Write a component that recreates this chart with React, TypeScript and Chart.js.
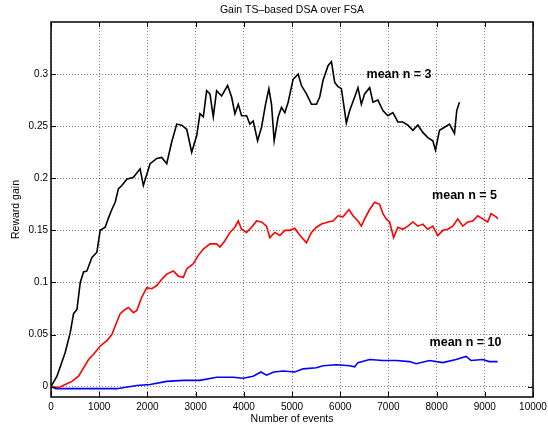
import { useEffect, useRef } from "react";
import { Chart, registerables } from "chart.js";

Chart.register(...registerables);

const FONT = "'Liberation Sans', Arial, Helvetica, sans-serif";

const chartTitle = "Gain TS\u2013based DSA over FSA";
const xTitle = "Number of events";
const yTitle = "Reward gain";

const xTicks = [0, 1000, 2000, 3000, 4000, 5000, 6000, 7000, 8000, 9000, 10000];
const yTicks = [0, 0.05, 0.1, 0.15, 0.2, 0.25, 0.3];

const seriesNames = ["mean n = 3", "mean n = 5", "mean n = 10"];

const blackX = [0, 124, 296, 400, 468, 538, 607, 675, 745, 849, 952, 1021, 1124, 1193, 1262, 1331, 1400, 1469, 1573, 1711, 1849, 1916, 2056, 2195, 2298, 2401, 2505, 2609, 2712, 2816, 2919, 3023, 3091, 3160, 3229, 3298, 3367, 3436, 3540, 3664, 3747, 3816, 3885, 3954, 4058, 4126, 4195, 4286, 4368, 4451, 4520, 4575, 4630, 4713, 4782, 4851, 4920, 5023, 5127, 5196, 5300, 5404, 5507, 5575, 5644, 5748, 5818, 5886, 5955, 6025, 6128, 6197, 6300, 6369, 6439, 6507, 6611, 6680, 6783, 6886, 6990, 7093, 7197, 7300, 7404, 7507, 7611, 7714, 7818, 7922, 7977, 8060, 8164, 8267, 8371, 8418, 8474];
const blackY = [0, 0.010, 0.033, 0.052, 0.070, 0.074, 0.100, 0.110, 0.111, 0.124, 0.129, 0.150, 0.153, 0.162, 0.170, 0.177, 0.190, 0.193, 0.199, 0.201, 0.209, 0.193, 0.214, 0.219, 0.220, 0.214, 0.235, 0.252, 0.251, 0.247, 0.225, 0.241, 0.262, 0.259, 0.284, 0.281, 0.259, 0.284, 0.279, 0.289, 0.278, 0.262, 0.271, 0.260, 0.260, 0.252, 0.255, 0.236, 0.249, 0.271, 0.286, 0.271, 0.236, 0.259, 0.268, 0.263, 0.273, 0.295, 0.300, 0.289, 0.281, 0.271, 0.271, 0.278, 0.294, 0.308, 0.312, 0.292, 0.288, 0.286, 0.253, 0.265, 0.278, 0.287, 0.271, 0.281, 0.287, 0.273, 0.275, 0.265, 0.260, 0.263, 0.254, 0.254, 0.251, 0.246, 0.251, 0.244, 0.239, 0.236, 0.227, 0.246, 0.249, 0.252, 0.243, 0.265, 0.273];

const redX = [0, 158, 296, 434, 572, 676, 779, 883, 1021, 1159, 1262, 1366, 1435, 1538, 1607, 1711, 1780, 1884, 1988, 2091, 2195, 2298, 2401, 2539, 2643, 2746, 2816, 2953, 3056, 3160, 3298, 3437, 3505, 3609, 3712, 3816, 3885, 3954, 4058, 4161, 4265, 4368, 4472, 4540, 4644, 4747, 4851, 4954, 5058, 5150, 5300, 5404, 5507, 5611, 5748, 5851, 5955, 6058, 6182, 6265, 6369, 6439, 6507, 6611, 6714, 6818, 6886, 6956, 7025, 7108, 7197, 7300, 7404, 7507, 7611, 7714, 7818, 7922, 8025, 8129, 8232, 8336, 8439, 8543, 8646, 8750, 8853, 8957, 9060, 9130, 9234, 9270];
const redY = [0, -0.001, 0.002, 0.005, 0.010, 0.018, 0.026, 0.031, 0.039, 0.044, 0.050, 0.062, 0.070, 0.074, 0.076, 0.071, 0.073, 0.086, 0.095, 0.094, 0.097, 0.103, 0.108, 0.111, 0.106, 0.105, 0.113, 0.118, 0.126, 0.132, 0.137, 0.137, 0.134, 0.140, 0.148, 0.153, 0.159, 0.151, 0.148, 0.153, 0.159, 0.158, 0.154, 0.143, 0.148, 0.145, 0.150, 0.150, 0.152, 0.146, 0.138, 0.148, 0.153, 0.156, 0.158, 0.159, 0.164, 0.163, 0.170, 0.164, 0.159, 0.154, 0.161, 0.170, 0.177, 0.175, 0.166, 0.161, 0.158, 0.143, 0.153, 0.151, 0.154, 0.158, 0.154, 0.156, 0.151, 0.154, 0.145, 0.150, 0.151, 0.154, 0.161, 0.154, 0.158, 0.159, 0.164, 0.161, 0.158, 0.166, 0.163, 0.161];

const blueX = [0, 100, 1021, 1366, 1780, 2056, 2401, 2746, 3091, 3436, 3781, 3988, 4195, 4355, 4472, 4623, 4816, 5058, 5230, 5507, 5644, 5921, 6197, 6300, 6369, 6611, 6886, 7163, 7438, 7577, 7853, 8129, 8405, 8612, 8716, 8957, 9095, 9267];
const blueY = [0, -0.002, -0.002, -0.002, 0.001, 0.002, 0.005, 0.006, 0.006, 0.009, 0.009, 0.008, 0.010, 0.014, 0.011, 0.014, 0.015, 0.014, 0.017, 0.018, 0.020, 0.021, 0.020, 0.019, 0.023, 0.026, 0.025, 0.025, 0.024, 0.022, 0.025, 0.023, 0.026, 0.029, 0.025, 0.026, 0.024, 0.024];

const toPoints = (xs: number[], ys: number[]) => xs.map((x, i) => ({ x, y: ys[i] }));

export default function App() {
  const ref = useRef<HTMLCanvasElement | null>(null);

  useEffect(() => {
    if (!ref.current) return;

    const annotations = [
      { text: seriesNames[0], x: 7220, y: 0.2995 },
      { text: seriesNames[1], x: 8580, y: 0.1833 },
      { text: seriesNames[2], x: 8600, y: 0.0426 },
    ];

    const framePlugin = {
      id: "frame",
      afterDatasetsDraw(chart: any) {
        const { ctx, chartArea, scales } = chart;
        const { left, right, top, bottom } = chartArea;
        const xs = scales.x;
        const ys = scales.y;
        ctx.save();
        ctx.strokeStyle = "#000";
        ctx.lineWidth = 1;
        ctx.beginPath();
        const tl = 5;
        xTicks.forEach((v) => {
          const px = Math.round(xs.getPixelForValue(v)) + 0.5;
          ctx.moveTo(px, bottom);
          ctx.lineTo(px, bottom - tl);
          ctx.moveTo(px, top);
          ctx.lineTo(px, top + tl);
        });
        yTicks.forEach((v) => {
          const py = Math.round(ys.getPixelForValue(v)) + 0.5;
          ctx.moveTo(left, py);
          ctx.lineTo(left + tl, py);
          ctx.moveTo(right, py);
          ctx.lineTo(right - tl, py);
        });
        ctx.stroke();
        ctx.lineWidth = 1.5;
        ctx.strokeRect(left, top, right - left, bottom - top);
        ctx.fillStyle = "#000";
        ctx.font = `bold 12.5px ${FONT}`;
        ctx.textAlign = "center";
        ctx.textBaseline = "middle";
        annotations.forEach((a) => {
          ctx.fillText(a.text, xs.getPixelForValue(a.x), ys.getPixelForValue(a.y));
        });
        ctx.font = `10.5px ${FONT}`;
        ctx.fillText(chartTitle, (left + right) / 2, 10.5);
        ctx.restore();
      },
    };

    const chart = new Chart(ref.current, {
      type: "line",
      data: {
        datasets: [
          { label: seriesNames[0], data: toPoints(blackX, blackY), borderColor: "#000000", borderWidth: 1.6, pointRadius: 0, tension: 0, fill: false },
          { label: seriesNames[1], data: toPoints(redX, redY), borderColor: "#ff0000", borderWidth: 1.6, pointRadius: 0, tension: 0, fill: false },
          { label: seriesNames[2], data: toPoints(blueX, blueY), borderColor: "#0000ff", borderWidth: 1.6, pointRadius: 0, tension: 0, fill: false },
        ],
      },
      options: {
        animation: false,
        responsive: false,
        maintainAspectRatio: false,
        parsing: false,
        layout: { padding: { left: 0, right: 15, top: 22, bottom: 0 } },
        plugins: {
          legend: { display: false },
          tooltip: { enabled: false },
          title: { display: false },
        },
        scales: {
          x: {
            type: "linear",
            min: 0,
            max: 10000,
            afterBuildTicks: (s: any) => {
              s.ticks = xTicks.map((v) => ({ value: v }));
            },
            afterFit: (s: any) => {
              s.height = 31;
              s.paddingLeft = 0;
              s.paddingRight = 0;
            },
            ticks: {
              callback: (v: any) => String(v),
              color: "#000",
              font: { family: FONT, size: 10 },
              padding: 4,
              maxRotation: 0,
              autoSkip: false,
            },
            grid: { color: "rgba(0,0,0,0.5)", lineWidth: 1, drawTicks: false },
            border: { display: false, dash: [1, 2] },
            title: {
              display: true,
              text: xTitle,
              color: "#000",
              font: { family: FONT, size: 10.5 },
              padding: { top: 0, bottom: 3 },
            },
          },
          y: {
            type: "linear",
            min: -0.01,
            max: 0.35,
            afterBuildTicks: (s: any) => {
              s.ticks = yTicks.map((v) => ({ value: v }));
            },
            afterFit: (s: any) => {
              s.width = 51;
              s.paddingTop = 0;
              s.paddingBottom = 0;
            },
            ticks: {
              callback: (v: any) => String(v),
              color: "#000",
              font: { family: FONT, size: 10 },
              padding: 3,
              autoSkip: false,
            },
            grid: { color: "rgba(0,0,0,0.5)", lineWidth: 1, drawTicks: false },
            border: { display: false, dash: [1, 2] },
            title: {
              display: true,
              text: yTitle,
              color: "#000",
              font: { family: FONT, size: 10.5 },
              padding: { top: 10, bottom: 0 },
            },
          },
        },
      },
      plugins: [framePlugin],
    } as any);

    return () => chart.destroy();
  }, []);

  return (
    <div style={{ position: "fixed", left: 0, top: 0, width: 548, height: 428, background: "#fff" }}>
      <canvas ref={ref} width={548} height={428} />
    </div>
  );
}
